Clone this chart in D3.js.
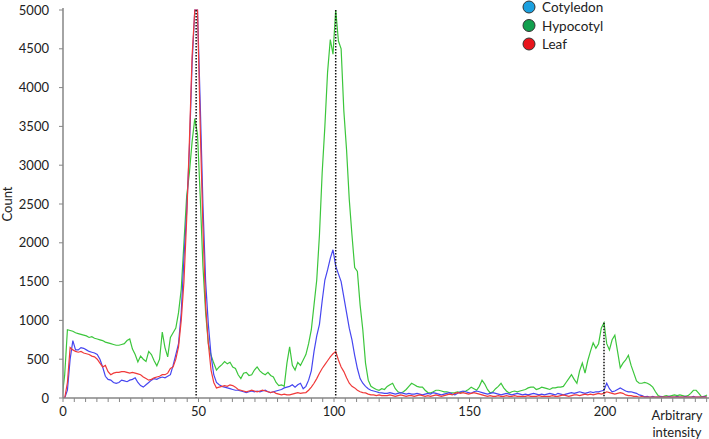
<!DOCTYPE html>
<html>
<head>
<meta charset="utf-8">
<script src="https://cdn.jsdelivr.net/npm/d3@7"></script>
<style>
  body { margin: 0; background: #fff; }
  text { font-family: Lato, "Open Sans", sans-serif; fill: #222; }
</style>
</head>
<body>
<div id="chart"></div>
<script>
// Data (one value per intensity step, 0..238)
let hypocotyl = [
  0,300,880,870,860,840,830,820,810,800,
  780,790,770,760,750,740,720,710,700,690,
  680,680,690,700,740,760,630,560,465,540,
  500,470,600,560,480,415,500,850,650,530,
  780,840,900,1100,1400,2000,2600,2900,3300,3600,
  3400,2600,1700,1100,700,550,450,360,400,430,
  470,440,460,400,380,300,250,320,330,290,
  300,360,400,350,320,300,330,290,270,200,
  160,170,150,450,660,420,360,460,420,490,
  560,700,880,1200,1520,2100,2900,3500,4200,4620,
  4430,5000,4600,4500,3700,3200,2560,2100,1680,1630,
  1200,880,450,230,150,130,110,100,120,110,
  150,170,190,120,80,65,80,110,150,190,
  170,150,140,140,100,70,65,80,100,100,
  90,80,80,70,65,70,80,70,80,90,
  110,140,120,100,150,230,180,110,65,80,
  120,150,190,130,90,65,80,90,80,90,
  100,110,130,140,140,110,120,140,130,120,
  110,130,130,140,140,150,200,250,300,240,
  190,350,450,320,480,600,710,640,700,900,
  970,700,620,750,810,600,390,450,490,550,
  420,320,220,190,190,200,190,170,140,80,
  30,15,20,30,20,30,40,30,40,30,
  20,30,60,100,100,60,15,20,40
];
let cotyledon = [
  0,0,100,500,740,620,620,650,640,620,
  600,590,580,560,500,400,280,240,230,200,
  190,200,230,220,210,230,240,260,200,160,
  140,170,200,230,250,240,260,270,260,280,
  300,420,560,700,1100,1800,2400,3200,4300,5000,
  5000,3800,2500,1500,950,550,300,200,170,150,
  140,130,120,110,100,100,90,80,70,80,
  90,80,90,80,90,100,80,70,80,90,
  100,110,130,140,150,170,140,170,190,120,
  150,230,350,600,800,950,1250,1520,1650,1800,
  1910,1700,1600,1500,1300,1100,900,750,550,380,
  250,190,150,120,100,90,80,70,65,60,
  60,70,60,50,60,70,60,50,60,50,
  50,60,50,40,50,60,50,70,60,50,
  40,50,60,70,50,40,60,80,90,80,
  70,60,80,90,80,70,60,50,60,70,
  60,50,40,50,60,50,40,50,60,50,
  40,50,40,50,60,50,40,50,40,50,
  60,50,40,60,50,40,50,60,70,60,
  70,80,70,60,70,80,70,80,80,90,
  100,190,120,80,90,110,130,110,90,80,
  80,70,60,40,30,15,20,10,20,10,
  10,20,10,10,20,10,10,20,10,10,
  20,10,10,20,10,10,10,20,10
];
let leaf = [
  0,0,200,650,620,600,590,600,580,570,
  560,540,530,500,450,400,420,340,300,320,
  330,330,340,340,330,320,330,320,310,300,
  270,250,230,240,260,270,280,300,300,320,
  380,400,500,660,1000,1500,2300,3300,4400,5000,
  5000,3500,2200,1200,700,360,200,130,140,150,
  160,150,170,160,140,110,100,90,80,90,
  100,90,80,90,100,90,80,70,80,60,
  50,40,50,40,40,50,60,70,60,65,
  70,100,140,190,250,320,380,430,480,530,
  570,600,490,400,340,260,190,150,130,100,
  80,70,65,50,40,40,30,40,30,30,
  30,40,30,20,30,40,30,20,30,30,
  20,30,40,30,20,30,20,30,40,30,
  20,30,40,50,40,60,70,60,70,60,
  50,60,70,60,50,40,30,20,30,20,
  20,30,20,20,30,20,20,30,20,20,
  20,20,30,20,20,20,30,20,20,20,
  20,30,20,20,30,40,30,20,30,40,
  40,30,40,50,40,50,40,50,60,50,
  60,80,70,60,50,60,70,60,40,30,
  30,20,20,10,20,10,10,10,10,10,
  10,10,10,10,10,10,10,10,10,10,
  10,10,10,10,10,10,10,10,10
];
let peakPos = [49.5, 101, 200];
let peakTop = [5000, 5000, 970];
let xTickLabels = [0, 50, 100, 150, 200];
let yTickLabels = [0, 500, 1000, 1500, 2000, 2500, 3000, 3500, 4000, 4500, 5000];
let legendNames = ['Cotyledon', 'Hypocotyl', 'Leaf'];
let legendColors = ['#1ba0df', '#12a04e', '#e8141c'];

// Dimensions
let W = 709, H = 439;
let plotLeft = 63, plotTop = 10, plotBottom = 398;

// Scales
let x = d3.scaleLinear().domain([0, 240]).range([62, 62 + 2.71 * 240]);
let y = d3.scaleLinear().domain([0, 5000]).range([plotBottom, plotTop]);

let svg = d3.select('#chart').append('svg')
  .attr('width', W).attr('height', H);

svg.append('defs').append('clipPath').attr('id', 'clip')
  .append('rect').attr('x', plotLeft).attr('y', plotTop - 1)
  .attr('width', W - plotLeft).attr('height', plotBottom - plotTop + 1);

// Lines
let line = d3.line().x((d, i) => x(i)).y(d => y(d));
let series = [
  { vals: hypocotyl, color: '#3cc63c' },
  { vals: cotyledon, color: '#4646f0' },
  { vals: leaf, color: '#f03a3a' }
];
let lines = svg.append('g').attr('clip-path', 'url(#clip)');
series.forEach(s => {
  lines.append('path')
    .attr('d', line(s.vals))
    .attr('fill', 'none')
    .attr('stroke', s.color)
    .attr('stroke-width', 1.2);
});

// Peak markers
svg.selectAll('.peak')
  .data(peakPos)
  .enter()
  .append('line')
  .attr('class', 'peak')
  .attr('x1', d => x(d)).attr('x2', d => x(d))
  .attr('y1', (d, i) => y(peakTop[i])).attr('y2', plotBottom)
  .attr('stroke', '#111')
  .attr('stroke-width', 1.5)
  .attr('stroke-dasharray', '1.5,1.5');

// Axes
let axisColor = '#868686';
svg.append('line')
  .attr('x1', plotLeft).attr('x2', W).attr('y1', plotBottom).attr('y2', plotBottom)
  .attr('stroke', axisColor).attr('stroke-width', 1.5);
svg.append('line')
  .attr('x1', plotLeft).attr('x2', plotLeft).attr('y1', plotTop - 2).attr('y2', plotBottom)
  .attr('stroke', axisColor).attr('stroke-width', 1.5);

let minorTicks = d3.range(0, 239, 50 / 12);
svg.selectAll('.xtick')
  .data(minorTicks)
  .enter()
  .append('line')
  .attr('x1', d => x(d) + 1).attr('x2', d => x(d) + 1)
  .attr('y1', plotBottom).attr('y2', plotBottom + 4)
  .attr('stroke', axisColor).attr('stroke-width', 1);

svg.selectAll('.ytick')
  .data(yTickLabels)
  .enter()
  .append('line')
  .attr('x1', plotLeft - 4).attr('x2', plotLeft)
  .attr('y1', d => y(d)).attr('y2', d => y(d))
  .attr('stroke', axisColor).attr('stroke-width', 1);

svg.selectAll('.ylab')
  .data(yTickLabels)
  .enter()
  .append('text')
  .attr('x', 49).attr('y', d => y(d) + 4.5)
  .attr('text-anchor', 'end')
  .style('font-size', '13px')
  .text(d => d);

svg.selectAll('.xlab')
  .data(xTickLabels)
  .enter()
  .append('text')
  .attr('x', d => x(d) + 1).attr('y', 416)
  .attr('text-anchor', 'middle')
  .style('font-size', '13px')
  .text(d => d);

// Labels
svg.append('text')
  .attr('transform', 'translate(12,204) rotate(-90)')
  .attr('text-anchor', 'middle')
  .style('font-size', '13px')
  .text('Count');
svg.append('text')
  .attr('x', 677).attr('y', 420)
  .attr('text-anchor', 'middle')
  .style('font-size', '13px')
  .text('Arbitrary');
svg.append('text')
  .attr('x', 677).attr('y', 437)
  .attr('text-anchor', 'middle')
  .style('font-size', '13px')
  .text('intensity');

// Legend
let legend = svg.selectAll('.legend')
  .data(legendNames)
  .enter()
  .append('g')
  .attr('transform', (d, i) => `translate(529, ${7 + i * 18.5})`);
legend.append('circle')
  .attr('r', 6)
  .attr('fill', (d, i) => legendColors[i])
  .attr('stroke', '#333')
  .attr('stroke-width', 1);
legend.append('text')
  .attr('x', 13).attr('y', 5)
  .style('font-size', '13.5px')
  .text(d => d);
</script>
</body>
</html>
